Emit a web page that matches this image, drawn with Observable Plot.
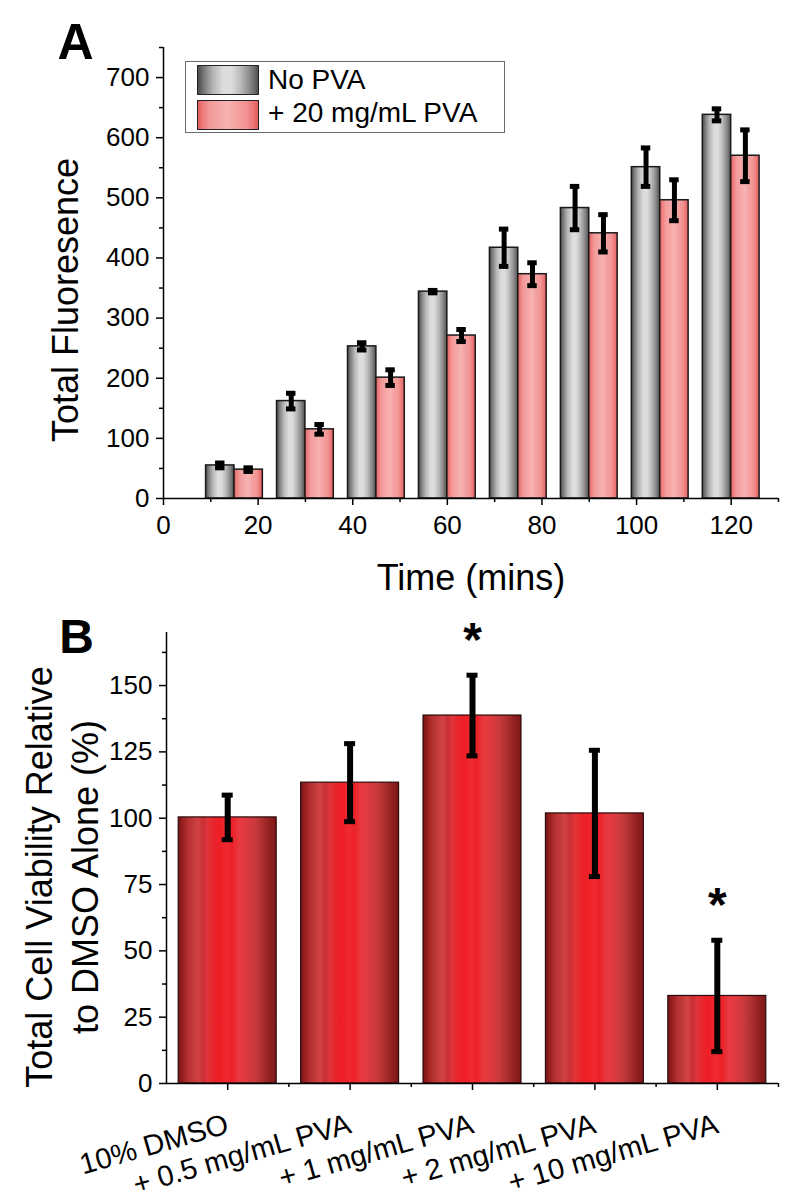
<!DOCTYPE html>
<html><head><meta charset="utf-8">
<script src="https://cdn.jsdelivr.net/npm/d3@7"></script>
<script src="https://cdn.jsdelivr.net/npm/@observablehq/plot@0.6"></script>
<style>
body{margin:0;background:#fff;font-family:"Liberation Sans",Arial,sans-serif;}
#wrap{position:relative;width:800px;height:1201px;overflow:hidden;background:#fff}
#wrap svg{position:absolute;left:0}
.legend{position:absolute;left:185px;top:61px;width:320px;height:72px;box-sizing:border-box;border:1px solid #6b6b6b;background:#fff}
.sw{position:absolute;left:11px;width:62px;height:30px;box-sizing:border-box;border:1.5px solid #222}
.lt{position:absolute;left:82px;font-size:28px;line-height:28px;white-space:nowrap;color:#000}
</style>
</head><body>
<div id="wrap"></div>
<script>
// ---- Panel A data ----
const times = [15, 30, 45, 60, 75, 90, 105, 120];
const noPVA = [55, 162, 253, 344, 417, 483, 551, 638];
const noPVAErr = [4, 13, 6, 2, 31, 36, 32, 10];
const withPVA = [48, 115, 201, 271, 373, 441, 496, 570];
const withPVAErr = [3, 8, 13, 10, 19, 31, 34, 43];
const seriesNames = ["No PVA", "+ 20 mg/mL PVA"];
const yTicksA = [0, 100, 200, 300, 400, 500, 600, 700];
const xTicksA = [0, 20, 40, 60, 80, 100, 120];

// ---- Panel B data ----
const conditions = ["10% DMSO", "+ 0.5 mg/mL PVA", "+ 1 mg/mL PVA", "+ 2 mg/mL PVA", "+ 10 mg/mL PVA"];
const viability = [100.3, 113.4, 138.7, 101.8, 33];
const viabilityErr = [8.4, 14.7, 15.2, 23.8, 21];
const significant = [false, false, true, false, true];
const yTicksB = [0, 25, 50, 75, 100, 125, 150];

const FONT = '"Liberation Sans", Arial, sans-serif';
const dataA = times.map((t, i) => ({t, a: noPVA[i], ae: noPVAErr[i], b: withPVA[i], be: withPVAErr[i]}));
const dataB = conditions.map((name, i) => ({i, name, v: viability[i], e: viabilityErr[i], sig: significant[i]}));

function addDefs(svg, grads) {
  const ns = "http://www.w3.org/2000/svg";
  const defs = document.createElementNS(ns, "defs");
  for (const [id, stops] of grads) {
    const g = document.createElementNS(ns, "linearGradient");
    g.setAttribute("id", id);
    g.setAttribute("x1", "0"); g.setAttribute("x2", "1");
    g.setAttribute("y1", "0"); g.setAttribute("y2", "0");
    for (const [o, c] of stops) {
      const s = document.createElementNS(ns, "stop");
      s.setAttribute("offset", o); s.setAttribute("stop-color", c);
      g.appendChild(s);
    }
    defs.appendChild(g);
  }
  svg.insertBefore(defs, svg.firstChild);
}
const grayStops = [[0,"#4a4a4a"],[0.1,"#7a7a7a"],[0.25,"#b5b5b5"],[0.42,"#dcdcdc"],[0.55,"#dedede"],[0.7,"#bdbdbd"],[0.85,"#8e8e8e"],[1,"#505050"]];
const pinkStops = [[0,"#e25a5a"],[0.08,"#ec7b7b"],[0.2,"#f39a9a"],[0.4,"#f6aaaa"],[0.5,"#f7b3b3"],[0.6,"#f5a5a5"],[0.8,"#f29494"],[0.92,"#ec7676"],[1,"#e25a5a"]];
const redStops = [[0,"#7a1515"],[0.05,"#9b2020"],[0.1,"#b53232"],[0.15,"#c23a3a"],[0.2,"#d24444"],[0.25,"#c73035"],[0.3,"#e0353a"],[0.35,"#e8262d"],[0.42,"#ee1e26"],[0.5,"#f02a30"],[0.55,"#ec2028"],[0.62,"#e83a40"],[0.7,"#dc3a3f"],[0.78,"#c83a3c"],[0.85,"#b03030"],[0.92,"#962222"],[1,"#7d1818"]];

const wrap = document.getElementById("wrap");

// ---------- Panel A ----------
const plotA = Plot.plot({
  width: 800, height: 600,
  marginTop: 47, marginBottom: 102, marginLeft: 163, marginRight: 22,
  x: {domain: [0, 130]},
  y: {domain: [0, 750]},
  style: {fontFamily: FONT, fontSize: "26px", color: "#000", background: "transparent", overflow: "visible"},
  marks: [
    Plot.rect(dataA, {x1: d => d.t - 6, x2: d => d.t, y1: () => 0, y2: "a", fill: "url(#gGray)", stroke: "#1a1a1a", strokeWidth: 1.5}),
    Plot.rect(dataA, {x1: d => d.t, x2: d => d.t + 6, y1: () => 0, y2: "b", fill: "url(#gPink)", stroke: "#1a1a1a", strokeWidth: 1.5}),
    Plot.ruleX(dataA, {x: d => d.t - 3, y1: d => d.a - d.ae, y2: d => d.a + d.ae, stroke: "#000", strokeWidth: 5}),
    Plot.ruleY(dataA, {y: d => d.a + d.ae, x1: d => d.t - 4, x2: d => d.t - 2, stroke: "#000", strokeWidth: 5}),
    Plot.ruleY(dataA, {y: d => d.a - d.ae, x1: d => d.t - 4, x2: d => d.t - 2, stroke: "#000", strokeWidth: 5}),
    Plot.ruleX(dataA, {x: d => d.t + 3, y1: d => d.b - d.be, y2: d => d.b + d.be, stroke: "#000", strokeWidth: 5}),
    Plot.ruleY(dataA, {y: d => d.b + d.be, x1: d => d.t + 2, x2: d => d.t + 4, stroke: "#000", strokeWidth: 5}),
    Plot.ruleY(dataA, {y: d => d.b - d.be, x1: d => d.t + 2, x2: d => d.t + 4, stroke: "#000", strokeWidth: 5}),
    Plot.axisY({ticks: yTicksA, tickSize: 7, tickPadding: 7, fontSize: 26, label: null, strokeWidth: 1.5}),
    Plot.axisY({ticks: yTicksA.map(v => v + 50), tickSize: 4, tickFormat: () => "", label: null, strokeWidth: 1.5}),
    Plot.axisX({ticks: xTicksA, tickSize: 7, tickPadding: 10, fontSize: 26, label: null, strokeWidth: 1.5}),
    Plot.axisX({ticks: xTicksA.map(v => v + 10), tickSize: 4, tickFormat: () => "", label: null, strokeWidth: 1.5}),
    Plot.ruleX([0], {strokeWidth: 1.5}),
    Plot.ruleY([0], {strokeWidth: 1.5}),
    Plot.text(["Total Fluoresence"], {text: d => d, frameAnchor: "left", rotate: -90, dx: -97, dy: 27, fontSize: 36, lineAnchor: "middle", textAnchor: "middle"}),
    Plot.text(["Time (mins)"], {text: d => d, frameAnchor: "bottom", dy: 91, fontSize: 36, lineAnchor: "bottom", textAnchor: "middle"}),
    Plot.text(["A"], {text: d => d, frameAnchor: "top-left", dx: -88, dy: 11, fontSize: 50, fontWeight: "bold", lineAnchor: "bottom", textAnchor: "middle"})
  ]
});
addDefs(plotA, [["gGray", grayStops], ["gPink", pinkStops]]);
plotA.style.top = "0px";
wrap.appendChild(plotA);

// legend (HTML)
const leg = document.createElement("div");
leg.className = "legend";
const cssGrad = stops => "linear-gradient(to right," + stops.map(([o, c]) => c + " " + (o * 100) + "%").join(",") + ")";
[[grayStops, 3, 4], [pinkStops, 38, 37]].forEach(([stops, top, ttop], i) => {
  const sw = document.createElement("div");
  sw.className = "sw"; sw.style.top = top + "px"; sw.style.background = cssGrad(stops);
  leg.appendChild(sw);
  const t = document.createElement("div");
  t.className = "lt"; t.style.top = ttop + "px"; t.textContent = seriesNames[i];
  leg.appendChild(t);
});
wrap.appendChild(leg);

// ---------- Panel B ----------
const plotB = Plot.plot({
  width: 800, height: 601,
  marginTop: 32, marginBottom: 118, marginLeft: 166, marginRight: 22,
  x: {domain: [0.5, 5.5]},
  y: {domain: [0, 170]},
  style: {fontFamily: FONT, fontSize: "26px", color: "#000", background: "transparent", overflow: "visible"},
  marks: [
    Plot.rect(dataB, {x1: d => d.i + 0.6, x2: d => d.i + 1.4, y1: () => 0, y2: "v", fill: "url(#gRed)", stroke: "#2a0a0a", strokeWidth: 1.2}),
    Plot.ruleX(dataB, {x: d => d.i + 1, y1: d => d.v - d.e, y2: d => d.v + d.e, stroke: "#000", strokeWidth: 6}),
    Plot.ruleY(dataB, {y: d => d.v + d.e, x1: d => d.i + 1 - 0.045, x2: d => d.i + 1 + 0.045, stroke: "#000", strokeWidth: 5}),
    Plot.ruleY(dataB, {y: d => d.v - d.e, x1: d => d.i + 1 - 0.045, x2: d => d.i + 1 + 0.045, stroke: "#000", strokeWidth: 5}),
    Plot.text(dataB.filter(d => d.sig), {x: d => d.i + 1, y: d => d.v + d.e, text: () => "*", dy: -53, fontSize: 48, fontWeight: "bold", lineAnchor: "top"}),
    Plot.axisY({ticks: yTicksB, tickSize: 7, tickPadding: 7, fontSize: 26, label: null, strokeWidth: 1.5}),
    Plot.axisY({ticks: yTicksB.map(v => v + 12.5), tickSize: 4, tickFormat: () => "", label: null, strokeWidth: 1.5}),
    Plot.axisX({ticks: dataB.map(d => d.i + 1), tickSize: 7, tickFormat: () => "", label: null, strokeWidth: 1.5}),
    Plot.axisX({ticks: dataB.map(d => d.i + 1.5), tickSize: 4, tickFormat: () => "", label: null, strokeWidth: 1.5}),
    Plot.text(dataB, {x: d => d.i + 1, y: () => 0, text: "name", dy: 40, rotate: -16, textAnchor: "end", lineAnchor: "middle", fontSize: 29}),
    Plot.ruleX([0.5], {strokeWidth: 1.5}),
    Plot.ruleY([0], {strokeWidth: 1.5}),
    Plot.text(["Total Cell Viability Relative\nto DMSO Alone (%)"], {text: d => d, frameAnchor: "left", rotate: -90, dx: -106, dy: 19, fontSize: 36, lineHeight: 1.28, lineAnchor: "middle", textAnchor: "middle"}),
    Plot.text(["B"], {text: d => d, frameAnchor: "top-left", dx: -90, dy: 20, fontSize: 48, fontWeight: "bold", lineAnchor: "bottom", textAnchor: "middle"})
  ]
});
addDefs(plotB, [["gRed", redStops]]);
plotB.style.top = "600px";
wrap.appendChild(plotB);
</script>
</body></html>
